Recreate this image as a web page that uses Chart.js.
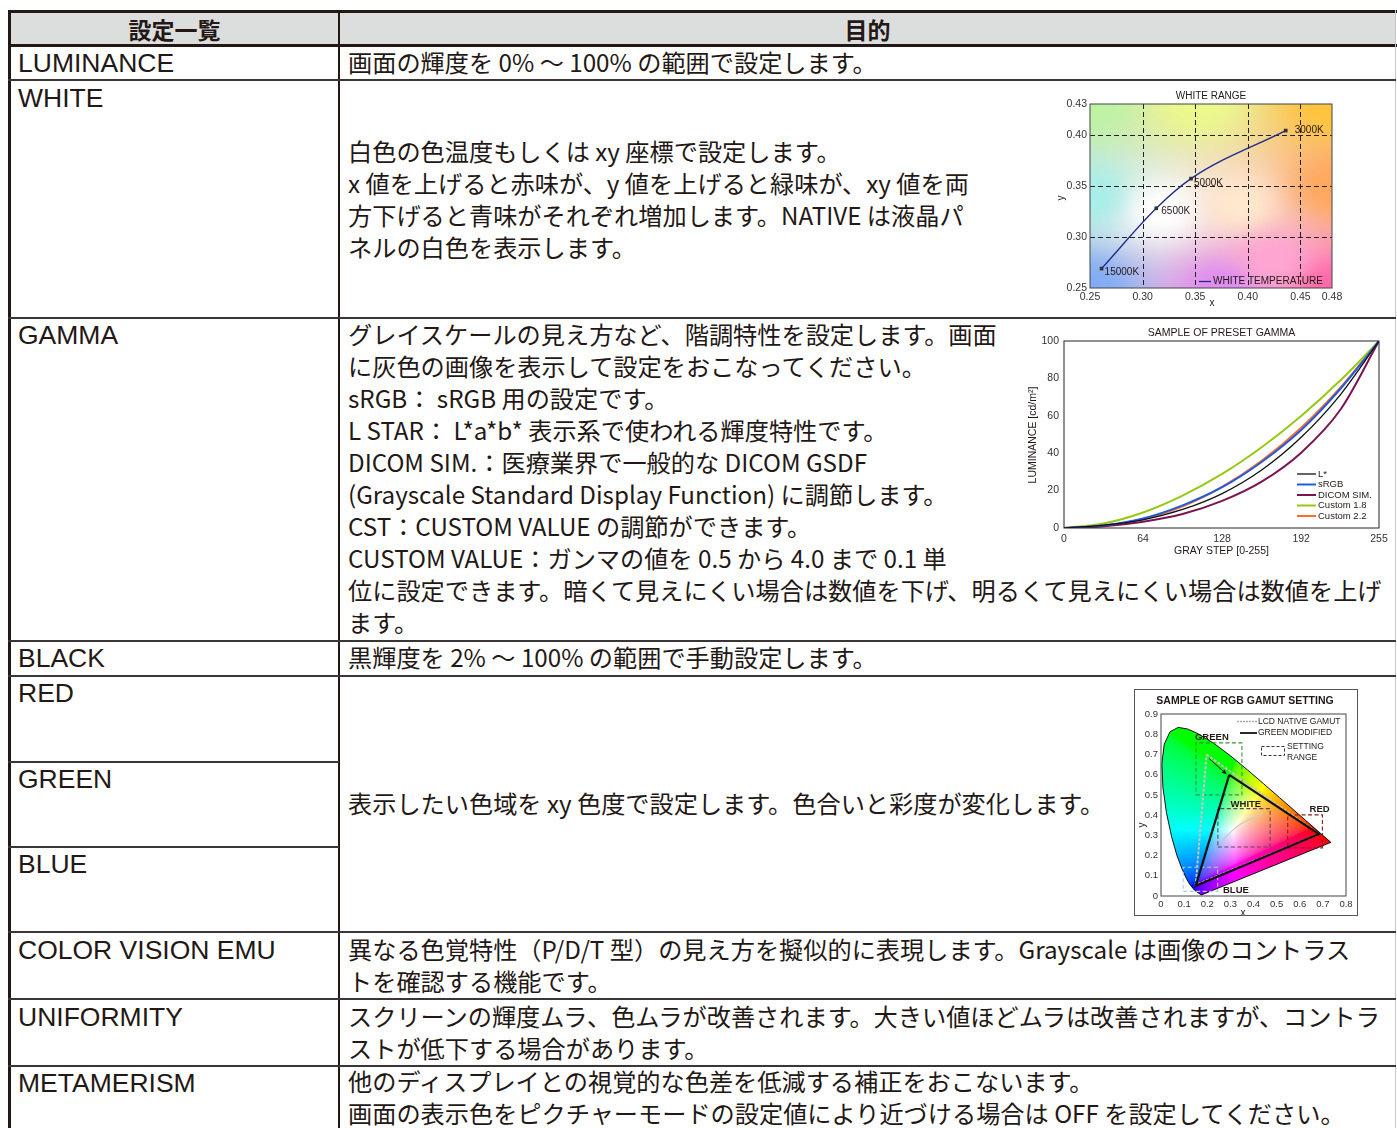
<!DOCTYPE html>
<html>
<head>
<meta charset="utf-8">
<script src="https://cdn.jsdelivr.net/npm/chart.js@4.4.1/dist/chart.umd.min.js"></script>
<style>
  html, body { margin: 0; padding: 0; background: #fff; }
  #page { position: relative; width: 1397px; height: 1128px; overflow: hidden; color: #231815; }
  .ln { position: absolute; background: #3b3535; }
  .hd { position: absolute; top: 12px; height: 32px; line-height: 30px; text-align: center;
        font: bold 23px "Noto Sans CJK JP", sans-serif; }
  .lbl { position: absolute; left: 18px; font: 26.5px "Liberation Sans", Arial, sans-serif;
         line-height: 32px; white-space: nowrap; }
  .txt { position: absolute; left: 348px; font: 24.2px "Noto Sans CJK JP", sans-serif;
         line-height: 32px; white-space: nowrap; }
  .chart { position: absolute; }
  #gamutBox { position: absolute; left: 1134px; top: 689px; width: 222px; height: 225px;
              border: 1px solid #555; }
</style>
</head>
<body>
<div id="page">
  <!-- header background -->
  <div style="position:absolute;left:11px;top:13px;width:1384px;height:31px;background:#dcdddd"></div>
  <div class="hd" style="left:11px;width:327px">設定一覧</div>
  <div class="hd" style="left:340px;width:1055px">目的</div>

  <!-- left column labels -->
  <div class="lbl" style="top:47px">LUMINANCE</div>
  <div class="lbl" style="top:82px">WHITE</div>
  <div class="lbl" style="top:319px">GAMMA</div>
  <div class="lbl" style="top:642px">BLACK</div>
  <div class="lbl" style="top:677px">RED</div>
  <div class="lbl" style="top:763px">GREEN</div>
  <div class="lbl" style="top:848px">BLUE</div>
  <div class="lbl" style="top:934px">COLOR VISION EMU</div>
  <div class="lbl" style="top:1001px">UNIFORMITY</div>
  <div class="lbl" style="top:1067px">METAMERISM</div>

  <!-- right column text -->
  <div class="txt" style="top:46px">画面の輝度を 0% ～ 100% の範囲で設定します。</div>
  <div class="txt" style="top:135px">白色の色温度もしくは xy 座標で設定します。<br>x 値を上げると赤味が、y 値を上げると緑味が、xy 値を両<br>方下げると青味がそれぞれ増加します。NATIVE は液晶パ<br>ネルの白色を表示します。</div>
  <div class="txt" style="top:318px">グレイスケールの見え方など、階調特性を設定します。画面<br>に灰色の画像を表示して設定をおこなってください。<br>sRGB： sRGB 用の設定です。<br>L STAR： L*a*b* 表示系で使われる輝度特性です。<br>DICOM SIM.：医療業界で一般的な DICOM GSDF<br>(Grayscale Standard Display Function) に調節します。<br>CST：CUSTOM VALUE の調節ができます。<br>CUSTOM VALUE：ガンマの値を 0.5 から 4.0 まで 0.1 単<br>位に設定できます。暗くて見えにくい場合は数値を下げ、明るくて見えにくい場合は数値を上げ<br>ます。</div>
  <div class="txt" style="top:641px">黒輝度を 2% ～ 100% の範囲で手動設定します。</div>
  <div class="txt" style="top:787px">表示したい色域を xy 色度で設定します。色合いと彩度が変化します。</div>
  <div class="txt" style="top:933px">異なる色覚特性（P/D/T 型）の見え方を擬似的に表現します。Grayscale は画像のコントラス<br>トを確認する機能です。</div>
  <div class="txt" style="top:1000px">スクリーンの輝度ムラ、色ムラが改善されます。大きい値ほどムラは改善されますが、コントラ<br>ストが低下する場合があります。</div>
  <div class="txt" style="top:1065px">他のディスプレイとの視覚的な色差を低減する補正をおこないます。<br>画面の表示色をピクチャーモードの設定値により近づける場合は OFF を設定してください。</div>

  <!-- table rules -->
  <div class="ln" style="left:8px;top:10px;width:1389px;height:3px;background:#231815"></div>
  <div class="ln" style="left:8px;top:44px;width:1389px;height:3px;background:#231815"></div>
  <div class="ln" style="left:8px;top:10px;width:3px;height:1118px;background:#231815"></div>
  <div class="ln" style="left:338px;top:10px;width:2px;height:1118px;background:#231815"></div>
  <div class="ln" style="left:1395px;top:10px;width:1px;height:1118px;background:#c8c8c8"></div>
  <div class="ln" style="left:8px;top:79px;width:1388px;height:2px"></div>
  <div class="ln" style="left:8px;top:317px;width:1388px;height:2px"></div>
  <div class="ln" style="left:8px;top:640px;width:1388px;height:2px"></div>
  <div class="ln" style="left:8px;top:675px;width:1388px;height:2px"></div>
  <div class="ln" style="left:8px;top:761px;width:331px;height:2px"></div>
  <div class="ln" style="left:8px;top:846px;width:331px;height:2px"></div>
  <div class="ln" style="left:8px;top:931px;width:1388px;height:2px"></div>
  <div class="ln" style="left:8px;top:998px;width:1388px;height:2px"></div>
  <div class="ln" style="left:8px;top:1065px;width:1388px;height:2px"></div>

  <!-- charts -->
  <div class="chart" style="left:1054px;top:88px"><canvas id="whiteChart" width="296" height="220"></canvas></div>
  <div class="chart" style="left:1015px;top:322px"><canvas id="gammaChart" width="380" height="240"></canvas></div>
  <div id="gamutBox"></div>
  <div class="chart" style="left:1136px;top:691px"><canvas id="gamutChart" width="220" height="224"></canvas></div>
</div>

<script>
// ---------- WHITE RANGE ----------
const whiteTempLabels = ["15000K", "6500K", "5000K", "3000K"];
const whiteTempX = [0.261, 0.313, 0.346, 0.436];
const whiteTempY = [0.269, 0.328, 0.357, 0.404];
const whiteXTicks = [0.25, 0.30, 0.35, 0.40, 0.45, 0.48];
const whiteYTicks = [0.25, 0.30, 0.35, 0.40, 0.43];
const whiteGridX = [0.30, 0.35, 0.40, 0.45];
const whiteGridY = [0.30, 0.35, 0.40];

// ---------- PRESET GAMMA ----------
const grayStep = [0, 32, 64, 96, 128, 160, 192, 224, 255];
const gammaLStar = [0, 1.5, 4.4, 9.9, 18.4, 31.0, 48.5, 71.5, 100];
const gammaSRGB = [0, 1.4, 5.1, 12.1, 21.8, 35.3, 52.4, 74.6, 100];
const gammaDicom = [0, 1.0, 3.4, 7.5, 14.5, 24.8, 40.3, 63.5, 100];
const gammaCustom18 = [0, 2.4, 8.3, 17.3, 28.9, 43.2, 59.9, 79.1, 100];
const gammaCustom22 = [0, 1.0, 4.8, 11.6, 22.0, 35.9, 53.6, 75.3, 100];
const gammaNames = ["L*", "sRGB", "DICOM SIM.", "Custom 1.8", "Custom 2.2"];
const grayTicks = [0, 64, 128, 192, 255];
const lumTicks = [0, 20, 40, 60, 80, 100];

// ---------- RGB GAMUT ----------
const locusX = [0.1741, 0.1440, 0.1241, 0.1096, 0.0913, 0.0687, 0.0454, 0.0235, 0.0082, 0.0039,
  0.0139, 0.0389, 0.0743, 0.1142, 0.1547, 0.2296, 0.3016, 0.3731, 0.4441, 0.5125, 0.5752, 0.6270,
  0.6915, 0.7347];
const locusY = [0.0050, 0.0297, 0.0578, 0.0868, 0.1327, 0.2007, 0.2950, 0.4127, 0.5384, 0.6548,
  0.7502, 0.8120, 0.8338, 0.8262, 0.8059, 0.7543, 0.6923, 0.6245, 0.5547, 0.4866, 0.4242, 0.3725,
  0.3083, 0.2653];
const nativeGamutX = [0.197, 0.683, 0.150];
const nativeGamutY = [0.699, 0.306, 0.055];
const greenModX = [0.295, 0.683, 0.150];
const greenModY = [0.599, 0.306, 0.050];
const arrowX = [0.209, 0.283];
const arrowY = [0.679, 0.603];
// setting ranges: [xmin, xmax, ymin, ymax]
const greenRange = [0.151, 0.350, 0.500, 0.757];
const redRange = [0.548, 0.698, 0.238, 0.401];
const blueRange = [0.096, 0.245, 0.023, 0.142];
const whiteRangeBox = [0.246, 0.472, 0.242, 0.432];
const gamutXTicks = [0, 0.1, 0.2, 0.3, 0.4, 0.5, 0.6, 0.7, 0.8];
const gamutYTicks = [0, 0.1, 0.2, 0.3, 0.4, 0.5, 0.6, 0.7, 0.8, 0.9];

const FONT = '"Liberation Sans", Arial, Helvetica, sans-serif';
const INK = "#231815";

function pts(xs, ys) {
  return xs.map((v, i) => ({ x: v, y: ys[i] }));
}
function closedPts(xs, ys) {
  const p = pts(xs, ys);
  p.push(p[0]);
  return p;
}
function rectPts(r) {
  return [{ x: r[0], y: r[2] }, { x: r[1], y: r[2] }, { x: r[1], y: r[3] }, { x: r[0], y: r[3] }, { x: r[0], y: r[2] }];
}

// Linear axis with a fixed tick list and a fixed thickness
function fixedAxis(min, max, tickList, fmt, thickness, isX, fontSize, pad) {
  return {
    type: "linear",
    min: min,
    max: max,
    afterBuildTicks: (s) => { s.ticks = tickList.map((v) => ({ value: v })); },
    afterFit: (s) => {
      if (isX) s.height = thickness; else s.width = thickness;
      s.paddingLeft = 0; s.paddingRight = 0; s.paddingTop = 0; s.paddingBottom = 0;
    },
    ticks: {
      autoSkip: false,
      maxRotation: 0,
      padding: pad,
      color: "#333",
      font: { family: FONT, size: fontSize },
      callback: fmt,
    },
    grid: { display: false, drawTicks: false },
    border: { display: false },
  };
}

function label(ctx, s, x, y, font, align, color) {
  ctx.save();
  ctx.font = font;
  ctx.fillStyle = color || INK;
  ctx.textAlign = align || "left";
  ctx.textBaseline = "middle";
  ctx.fillText(s, x, y);
  ctx.restore();
}
function vLabel(ctx, s, x, y, font) {
  ctx.save();
  ctx.translate(x, y);
  ctx.rotate(-Math.PI / 2);
  label(ctx, s, 0, 0, font, "center");
  ctx.restore();
}
function frame(chart, color, width) {
  const { ctx, chartArea: a } = chart;
  ctx.save();
  ctx.strokeStyle = color;
  ctx.lineWidth = width;
  ctx.strokeRect(a.left, a.top, a.right - a.left, a.bottom - a.top);
  ctx.restore();
}

// Fill the plot area pixel by pixel from a colour function of data values
function paintField(chart, colorAt) {
  const { ctx, chartArea: a, scales } = chart;
  const left = Math.round(a.left), top = Math.round(a.top);
  const w = Math.round(a.right) - left, h = Math.round(a.bottom) - top;
  const img = ctx.createImageData(w, h);
  for (let j = 0; j < h; j++) {
    const yv = scales.y.getValueForPixel(top + j + 0.5);
    for (let i = 0; i < w; i++) {
      const c = colorAt(scales.x.getValueForPixel(left + i + 0.5), yv);
      if (!c) continue;
      const k = (j * w + i) * 4;
      img.data[k] = c[0]; img.data[k + 1] = c[1]; img.data[k + 2] = c[2]; img.data[k + 3] = 255;
    }
  }
  ctx.putImageData(img, left, top);
}

/* ----------------------------
    WHITE RANGE chart
---------------------------- */
// soft colour field: [u, v, r, g, b] with u,v in 0..1 of the plot area
const whiteField = [
  [0.00, 1.00, 190, 242, 165], [0.45, 1.00, 236, 248, 140], [1.00, 1.00, 255, 196, 60],
  [1.00, 0.55, 255, 168, 95], [1.00, 0.00, 255, 105, 168], [0.55, 0.00, 222, 140, 240],
  [0.00, 0.00, 130, 172, 245], [0.00, 0.50, 168, 238, 232], [0.30, 0.42, 255, 255, 255],
  [0.62, 0.45, 255, 232, 205], [0.75, 0.15, 255, 165, 210],
];
const whitePlugin = {
  id: "whiteRange",
  beforeDatasetsDraw(chart) {
    const { ctx, chartArea: a, scales: { x, y } } = chart;
    paintField(chart, (xv, yv) => {
      const u = (xv - 0.25) / 0.23, v = (yv - 0.25) / 0.18;
      let sw = 0, r = 0, g = 0, b = 0;
      for (const p of whiteField) {
        const d2 = (u - p[0]) ** 2 + (v - p[1]) ** 2 + 1e-4;
        const wgt = 1 / Math.pow(d2, 1.3);
        sw += wgt; r += wgt * p[2]; g += wgt * p[3]; b += wgt * p[4];
      }
      return [r / sw, g / sw, b / sw];
    });
    // dashed grid
    ctx.save();
    ctx.strokeStyle = "#222";
    ctx.lineWidth = 1;
    ctx.setLineDash([5, 3]);
    ctx.beginPath();
    whiteGridX.forEach((v) => {
      const px = Math.round(x.getPixelForValue(v)) + 0.5;
      ctx.moveTo(px, a.top); ctx.lineTo(px, a.bottom);
    });
    whiteGridY.forEach((v) => {
      const py = Math.round(y.getPixelForValue(v)) + 0.5;
      ctx.moveTo(a.left, py); ctx.lineTo(a.right, py);
    });
    ctx.stroke();
    ctx.restore();
  },
  afterDraw(chart) {
    const { ctx, chartArea: a, scales: { x, y } } = chart;
    frame(chart, "#444", 1);
    const f = "10px " + FONT;
    // point labels
    const offs = [[3, 4], [5, 3], [3, 5], [9, 0]];
    whiteTempLabels.forEach((s, i) => {
      label(ctx, s, x.getPixelForValue(whiteTempX[i]) + offs[i][0], y.getPixelForValue(whiteTempY[i]) + offs[i][1], f);
    });
    // legend
    ctx.save();
    ctx.strokeStyle = "#1e2a8a";
    ctx.lineWidth = 1.3;
    ctx.beginPath();
    ctx.moveTo(145, 193.5); ctx.lineTo(157, 193.5);
    ctx.stroke();
    ctx.restore();
    label(ctx, "WHITE TEMPERATURE", 159, 193.5, f);
    // titles
    label(ctx, "WHITE RANGE", (a.left + a.right) / 2, 8, f, "center");
    label(ctx, "x", 158, 215, f, "center");
    vLabel(ctx, "y", 7, 110, f);
  },
};

new Chart(document.getElementById("whiteChart"), {
  type: "scatter",
  data: {
    datasets: [{
      label: "WHITE TEMPERATURE",
      data: pts(whiteTempX, whiteTempY),
      showLine: true,
      borderColor: "#1e2a8a",
      borderWidth: 1.3,
      tension: 0.4,
      cubicInterpolationMode: "monotone",
      pointStyle: "rect",
      pointRadius: 2.6,
      pointBackgroundColor: "#333",
      pointBorderWidth: 0,
    }],
  },
  options: {
    responsive: false,
    animation: false,
    devicePixelRatio: 1,
    layout: { padding: { left: 0, top: 16, right: 18, bottom: 0 } },
    plugins: { legend: { display: false }, tooltip: { enabled: false } },
    scales: {
      x: fixedAxis(0.25, 0.48, whiteXTicks, (v) => v.toFixed(2), 20, true, 10.5, 3),
      y: fixedAxis(0.25, 0.43, whiteYTicks, (v) => v.toFixed(2), 36, false, 10.5, 3),
    },
  },
  plugins: [whitePlugin],
});

/* ----------------------------
    SAMPLE OF PRESET GAMMA chart
---------------------------- */
const gammaColors = ["#111111", "#1f5be0", "#7c1450", "#96c814", "#ff6a2a"];
const gammaSeries = [gammaLStar, gammaSRGB, gammaDicom, gammaCustom18, gammaCustom22];
const gammaWidths = [1.3, 2, 2, 2, 2];

const gammaPlugin = {
  id: "gammaDeco",
  afterDraw(chart) {
    const { ctx, chartArea: a } = chart;
    frame(chart, "#222", 1);
    const f = "10.5px " + FONT;
    label(ctx, "SAMPLE OF PRESET GAMMA", (a.left + a.right) / 2, 11, f, "center");
    label(ctx, "GRAY STEP [0-255]", (a.left + a.right) / 2, 229, f, "center");
    vLabel(ctx, "LUMINANCE [cd/m²]", 18, 113, f);
    // legend
    const lf = "9.5px " + FONT;
    gammaNames.forEach((s, i) => {
      const yy = 152 + i * 10.5;
      ctx.save();
      ctx.strokeStyle = gammaColors[i];
      ctx.lineWidth = i === 0 ? 1.3 : 2;
      ctx.beginPath();
      ctx.moveTo(282, yy); ctx.lineTo(301, yy);
      ctx.stroke();
      ctx.restore();
      label(ctx, s, 303, yy, lf);
    });
  },
};

new Chart(document.getElementById("gammaChart"), {
  type: "scatter",
  data: {
    datasets: gammaNames.map((n, i) => ({
      label: n,
      data: pts(grayStep, gammaSeries[i]),
      showLine: true,
      borderColor: gammaColors[i],
      borderWidth: gammaWidths[i],
      tension: 0.4,
      cubicInterpolationMode: "monotone",
      pointRadius: 0,
    })),
  },
  options: {
    responsive: false,
    animation: false,
    devicePixelRatio: 1,
    layout: { padding: { left: 0, top: 19, right: 16, bottom: 0 } },
    plugins: { legend: { display: false }, tooltip: { enabled: false } },
    scales: {
      x: fixedAxis(0, 255, grayTicks, (v) => String(v), 34, true, 10.5, 5),
      y: fixedAxis(0, 100, lumTicks, (v) => String(v), 49, false, 10.5, 5),
    },
  },
  plugins: [gammaPlugin],
});

/* ----------------------------
    SAMPLE OF RGB GAMUT SETTING chart
---------------------------- */
function insideLocus(px, py) {
  let inside = false;
  const n = locusX.length;
  for (let i = 0, j = n - 1; i < n; j = i++) {
    const xi = locusX[i], yi = locusY[i], xj = locusX[j], yj = locusY[j];
    if ((yi > py) !== (yj > py) && px < ((xj - xi) * (py - yi)) / (yj - yi) + xi) inside = !inside;
  }
  return inside;
}
function xyToRGB(x, y) {
  const X = x / y, Y = 1, Z = (1 - x - y) / y;
  let r = 3.2406 * X - 1.5372 * Y - 0.4986 * Z;
  let g = -0.9689 * X + 1.8758 * Y + 0.0415 * Z;
  let b = 0.0557 * X - 0.2040 * Y + 1.0570 * Z;
  r = Math.max(r, 0); g = Math.max(g, 0); b = Math.max(b, 0);
  const m = Math.max(r, g, b) || 1;
  return [r, g, b].map((v) => Math.round(255 * Math.pow(v / m, 1 / 2.2)));
}

const gamutPlugin = {
  id: "gamutDeco",
  beforeDatasetsDraw(chart) {
    paintField(chart, (xv, yv) => (yv > 0.002 && insideLocus(xv, yv) ? xyToRGB(xv, yv) : null));
  },
  afterDatasetsDraw(chart) {
    const { ctx, scales: { x, y } } = chart;
    // arrow head
    const x1 = x.getPixelForValue(arrowX[1]), y1 = y.getPixelForValue(arrowY[1]);
    const x0 = x.getPixelForValue(arrowX[0]), y0 = y.getPixelForValue(arrowY[0]);
    const ang = Math.atan2(y1 - y0, x1 - x0);
    ctx.save();
    ctx.fillStyle = "#111";
    ctx.beginPath();
    ctx.moveTo(x1, y1);
    ctx.lineTo(x1 - 5 * Math.cos(ang - 0.45), y1 - 5 * Math.sin(ang - 0.45));
    ctx.lineTo(x1 - 5 * Math.cos(ang + 0.45), y1 - 5 * Math.sin(ang + 0.45));
    ctx.closePath();
    ctx.fill();
    ctx.restore();
  },
  afterDraw(chart) {
    const { ctx, chartArea: a, scales: { x, y } } = chart;
    frame(chart, "#444", 1);
    const bf = "bold 9.5px " + FONT;
    label(ctx, "GREEN", x.getPixelForValue(0.22), y.getPixelForValue(0.785), bf, "center");
    label(ctx, "WHITE", x.getPixelForValue(0.367), y.getPixelForValue(0.455), bf, "center");
    label(ctx, "RED", x.getPixelForValue(0.686), y.getPixelForValue(0.43), bf, "center");
    label(ctx, "BLUE", x.getPixelForValue(0.324), y.getPixelForValue(0.028), bf, "center");
    label(ctx, "SAMPLE OF RGB GAMUT SETTING", 109, 10, "bold 10.5px " + FONT, "center");
    label(ctx, "x", 107, 222, "10px " + FONT, "center");
    vLabel(ctx, "y", 6, 134, "10px " + FONT);
    // legend
    const lf = "8.5px " + FONT;
    ctx.save();
    ctx.strokeStyle = "#aaa";
    ctx.lineWidth = 1.5;
    ctx.setLineDash([2, 1]);
    ctx.beginPath(); ctx.moveTo(101, 30.5); ctx.lineTo(121, 30.5); ctx.stroke();
    ctx.setLineDash([]);
    ctx.strokeStyle = "#111";
    ctx.lineWidth = 1.8;
    ctx.beginPath(); ctx.moveTo(104, 42); ctx.lineTo(121, 42); ctx.stroke();
    ctx.lineWidth = 1;
    ctx.setLineDash([3, 2]);
    ctx.strokeStyle = "#333";
    ctx.strokeRect(125.5, 55.5, 23, 9);
    ctx.restore();
    label(ctx, "LCD NATIVE GAMUT", 122, 31, lf);
    label(ctx, "GREEN MODIFIED", 122, 42, lf);
    label(ctx, "SETTING", 151, 56, lf);
    label(ctx, "RANGE", 151, 66.5, lf);
  },
};

const rangeBoxes = [greenRange, redRange, blueRange, whiteRangeBox];
const rangeColors = ["#2e9a2e", "#8e1b1b", "#a9cdef", "#5a4a55"];
const gamutDatasets = [
  { data: pts(arrowX, arrowY), borderColor: "#111", borderWidth: 1 },
  { data: closedPts(greenModX, greenModY), borderColor: "#111", borderWidth: 2.2 },
  { data: closedPts(nativeGamutX, nativeGamutY), borderColor: "#c4c4c4", borderWidth: 2, borderDash: [3, 1.5] },
];
rangeBoxes.forEach((r, i) => {
  gamutDatasets.push({ data: rectPts(r), borderColor: rangeColors[i], borderWidth: 1.1, borderDash: [4, 2.5] });
});
gamutDatasets.push({
  data: pts(whiteTempX, whiteTempY), borderColor: "#c8c8c8", borderWidth: 1.2,
  tension: 0.4, cubicInterpolationMode: "monotone",
});
gamutDatasets.push({ data: closedPts(locusX, locusY), borderColor: "#111", borderWidth: 1 });
gamutDatasets.forEach((d) => { d.showLine = true; d.pointRadius = 0; });

new Chart(document.getElementById("gamutChart"), {
  type: "scatter",
  data: { datasets: gamutDatasets },
  options: {
    responsive: false,
    animation: false,
    devicePixelRatio: 1,
    layout: { padding: { left: 0, top: 23, right: 10, bottom: 0 } },
    plugins: { legend: { display: false }, tooltip: { enabled: false } },
    scales: {
      x: fixedAxis(0, 0.8, gamutXTicks, (v) => (v === 0 ? "0" : v.toFixed(1)), 19, true, 9.5, 3),
      y: fixedAxis(0, 0.9, gamutYTicks, (v) => (v === 0 ? "0" : v.toFixed(1)), 25, false, 9.5, 3),
    },
  },
  plugins: [gamutPlugin],
});
</script>
</body>
</html>
